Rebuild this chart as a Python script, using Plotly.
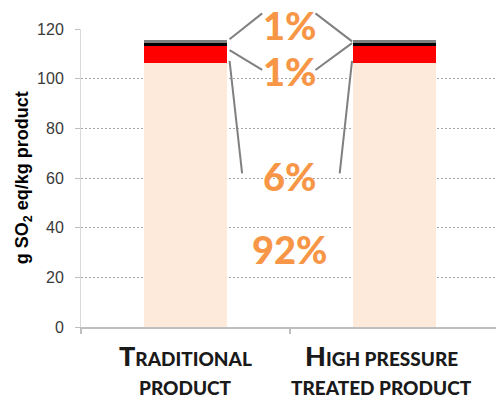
import plotly.graph_objects as go

# Acidification impact per kg of product, split by contribution
positions = [0, 1]
categories = ["Traditional product", "High pressure treated product"]
segments = ["Main contribution", "Second contribution", "Third contribution", "Fourth contribution"]
values_main = [106.5, 106.5]
values_second = [6.8, 6.8]
values_third = [1.2, 1.2]
values_fourth = [1.1, 1.1]
segment_colors = ["#FDEADA", "#FF0000", "#000000", "#808080"]
share_labels = ["92%", "6%", "1%", "1%"]
y_ticks = [0, 20, 40, 60, 80, 100, 120]

X_RANGE = [-0.5, 1.486]
Y_RANGE = [0, 120]

fig = go.Figure()
for name, vals, col in zip(segments, [values_main, values_second, values_third, values_fourth], segment_colors):
    fig.add_trace(go.Bar(x=positions, y=vals, name=name, width=0.4,
                         marker=dict(color=col, line=dict(width=0)),
                         showlegend=False, hoverinfo="skip"))


def to_paper(x, y):
    """Convert data coordinates to paper coordinates so marks above the axis range still show."""
    px = (x - X_RANGE[0]) / (X_RANGE[1] - X_RANGE[0])
    py = (y - Y_RANGE[0]) / (Y_RANGE[1] - Y_RANGE[0])
    return px, py


# Leader lines from the share labels to the bars
leaders = [
    ((0.367, 126.3), (0.211, 115.9)),
    ((0.622, 126.3), (0.797, 115.0)),
    ((0.367, 103.5), (0.211, 111.5)),
    ((0.622, 103.5), (0.797, 114.3)),
    ((0.211, 107.2), (0.271, 61.9)),
    ((0.797, 107.2), (0.738, 61.9)),
]
shapes = []
for (xa, ya), (xb, yb) in leaders:
    x0, y0 = to_paper(xa, ya)
    x1, y1 = to_paper(xb, yb)
    shapes.append(dict(type="line", xref="paper", yref="paper", x0=x0, y0=y0, x1=x1, y1=y1,
                       line=dict(color="#808080", width=2), layer="above"))

label_font = dict(family="Lato", size=38, color="#F79646", weight=900)
share_y = [31.4, 60.8, 103.2, 121.7]
annotations = []
for txt, yv in zip(share_labels, share_y):
    px, py = to_paper(0.5, yv)
    annotations.append(dict(x=px, y=py, xref="paper", yref="paper", text=txt, showarrow=False,
                            font=label_font, xanchor="center", yanchor="middle"))


def small_caps(text, big=27, small=19):
    out = []
    for word in text.split(" "):
        first, rest = word[0], word[1:]
        if first.isupper():
            out.append(f'<span style="font-size:{big}px">{first}</span>{rest.upper()}')
        else:
            out.append(word.upper())
    return " ".join(out)


cat_font = dict(family="Lato", size=19, color="#1A1A1A", weight=900)
cat_lines = [("Traditional", "product"), ("High pressure", "treated product")]
cat_x = [0.0, 0.94]
for (l1, l2), xc in zip(cat_lines, cat_x):
    annotations.append(dict(x=xc, y=-0.094, xref="x", yref="paper", text=small_caps(l1),
                            showarrow=False, font=cat_font, xanchor="center", yanchor="middle"))
    annotations.append(dict(x=xc, y=-0.203, xref="x", yref="paper", text=small_caps(l2),
                            showarrow=False, font=cat_font, xanchor="center", yanchor="middle"))

annotations.append(dict(x=-0.139, y=0.5, xref="paper", yref="paper",
                        text="g SO<sub>2</sub> eq/kg product", textangle=-90, showarrow=False,
                        font=dict(family="Liberation Sans", size=18, color="#000000", weight="bold"),
                        xanchor="center", yanchor="middle"))

fig.update_layout(
    width=496, height=408,
    margin=dict(l=81, r=0, t=29, b=81),
    paper_bgcolor="white", plot_bgcolor="white",
    barmode="stack", bargap=0,
    shapes=shapes, annotations=annotations,
    xaxis=dict(range=X_RANGE, tickvals=[-0.5, 0.5, 1.5], showticklabels=False,
               ticks="outside", ticklen=5, tickcolor="#BFBFBF", tickwidth=1.5,
               showline=True, linecolor="#BFBFBF", linewidth=2,
               showgrid=False, zeroline=False, fixedrange=True),
    yaxis=dict(range=Y_RANGE, tickvals=y_ticks, ticks="outside", ticklen=5,
               tickcolor="#BFBFBF", showline=True, linecolor="#D9D9D9", linewidth=1,
               showgrid=True, gridcolor="#A6A6A6", griddash="2px,2px", gridwidth=1,
               zeroline=False, ticklabelstandoff=8,
               tickfont=dict(family="Liberation Sans", size=16, color="#3A3A3A")),
)

fig.write_html("out.html")
